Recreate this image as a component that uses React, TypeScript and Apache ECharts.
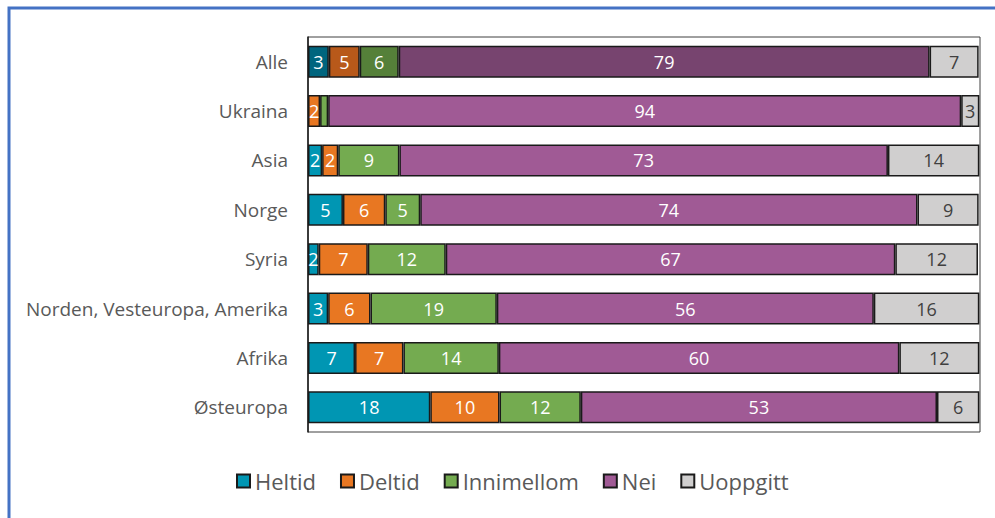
import React, { useEffect, useRef } from "react";
import * as echarts from "echarts";

const categories = [
  "Alle",
  "Ukraina",
  "Asia",
  "Norge",
  "Syria",
  "Norden, Vesteuropa, Amerika",
  "Afrika",
  "Østeuropa",
];
const seriesNames = ["Heltid", "Deltid", "Innimellom", "Nei", "Uoppgitt"];
const heltid = [3.1, 0, 2.1, 5.2, 1.6, 3.0, 7.0, 18.2];
const deltid = [4.6, 1.8, 2.4, 6.3, 7.3, 6.3, 7.2, 10.3];
const innimellom = [5.8, 1.2, 9.1, 5.2, 11.6, 18.8, 14.2, 12.1];
const nei = [79.0, 94.2, 72.7, 74.0, 66.9, 56.1, 59.6, 53.0];
const uoppgitt = [7.3, 2.7, 13.6, 9.1, 12.3, 15.7, 11.9, 6.3];

const colors = ["#0096B3", "#E87722", "#74AB50", "#A05A95", "#D0CFCF"];
const darkColors = ["#00657E", "#B8591A", "#558039", "#77446F", "#D0CFCF"];
const labelColors = ["#ffffff", "#ffffff", "#ffffff", "#ffffff", "#404040"];

const FONT = "Open Sans";

export default function App() {
  const ref = useRef<HTMLDivElement>(null);
  useEffect(() => {
    if (!ref.current) return;
    const chart = echarts.init(ref.current, undefined, { renderer: "svg" });
    const all = [heltid, deltid, innimellom, nei, uoppgitt];
    const series = all.map((vals, si) => ({
      name: seriesNames[si],
      type: "bar",
      stack: "total",
      barWidth: 32,
      itemStyle: { color: colors[si], borderColor: "#1a1a1a", borderWidth: 1.5 },
      label: {
        show: true,
        position: "inside",
        color: labelColors[si],
        fontFamily: FONT,
        fontSize: 18,
        formatter: (p: any) => (p.value >= 1.5 ? String(Math.round(p.value)) : ""),
      },
      data: vals.map((v, i) => {
        if (!v) return "-";
        if (i === 0) return { value: v, itemStyle: { color: darkColors[si] } };
        return v;
      }),
    }));
    chart.setOption({
      animation: false,
      textStyle: { fontFamily: FONT },
      grid: {
        left: 308,
        right: 15,
        top: 37,
        bottom: 86,
        show: true,
        borderColor: "#404040",
        borderWidth: 1,
      },
      xAxis: { type: "value", min: 0, max: 100, show: false },
      yAxis: {
        type: "category",
        data: categories,
        inverse: true,
        axisTick: { show: false },
        axisLine: { show: true, lineStyle: { color: "#1a1a1a", width: 1.5 } },
        axisLabel: { color: "#595959", fontSize: 19, fontFamily: FONT, margin: 20 },
      },
      legend: {
        data: seriesNames,
        top: 465,
        left: 231,
        icon: "rect",
        itemWidth: 13,
        itemHeight: 13,
        itemGap: 24,
        itemStyle: { borderColor: "#1a1a1a", borderWidth: 2 },
        textStyle: { color: "#595959", fontSize: 22, fontFamily: FONT },
      },
      graphic: [
        {
          type: "rect",
          shape: { x: 9, y: 8, width: 1100, height: 700 },
          style: { fill: "none", stroke: "#4472C4", lineWidth: 3 },
          silent: true,
        },
      ],
      series,
    });
    return () => chart.dispose();
  }, []);
  return (
    <div
      ref={ref}
      style={{ position: "fixed", left: 0, top: 0, width: 995, height: 518, background: "#fff" }}
    />
  );
}
